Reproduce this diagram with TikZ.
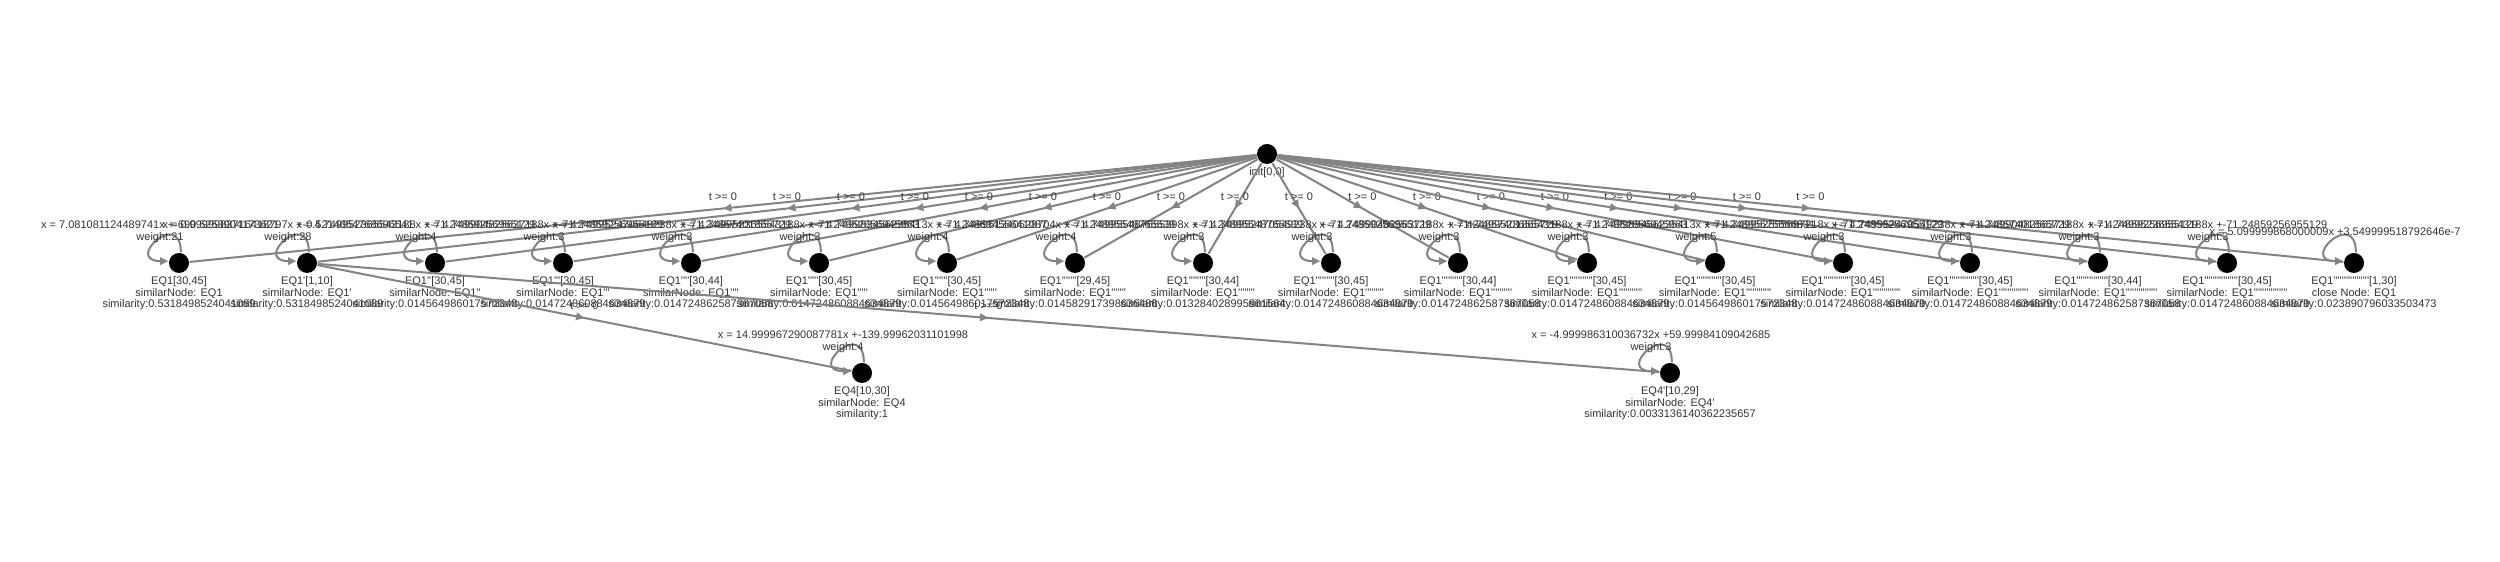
\documentclass[tikz,border=0pt]{standalone}
\usepackage{fontspec}
\newfontfamily\visfont{Liberation Sans}[Ligatures=TeXOff]
\usepackage{xcolor}
\usetikzlibrary{arrows.meta, decorations.markings}
\definecolor{edgegray}{HTML}{848484}
\definecolor{txtgray}{HTML}{343434}

\begin{document}
\begin{tikzpicture}[
    x=0.01cm, y=-0.01cm,
    vnode/.style={circle, fill=black, inner sep=0pt, minimum size=0.2cm},
    nlbl/.style={font=\visfont\fontsize{3.13pt}{3.33pt}\selectfont, text=txtgray, align=center, inner sep=0pt},
    below lbl/.style={label={[nlbl, label distance=0.6pt]below:{#1}}},
    tlbl/.style={nlbl, yshift=3.4pt},
    edge/.style={draw=edgegray, line width=0.57pt, postaction={decorate},
        decoration={markings, mark=at position 0.5 with {\arrow{Triangle[length=2.4pt,width=2.1pt]}}}},
    loopedge/.style={draw=edgegray, line width=0.57pt, -{Triangle[length=2.4pt,width=2.1pt]}},
]
\path[use as bounding box, fill=white] (0,0) rectangle (2500,562);

% root
\node[vnode, below lbl={init[0,0]}] (root) at (1267,154) {};

% first level
\node[vnode, below lbl={EQ1[30,45]\\similarNode: EQ1\\similarity:0.5318498524041089}] (eq1) at (179,263) {};
\node[vnode, below lbl={EQ1'[1,10]\\similarNode: EQ1'\\similarity:0.5318498524041089}] (eq2) at (307,263) {};
\node[vnode, below lbl={EQ1''[30,45]\\similarNode: EQ1''\\similarity:0.014564986017572348}] (eq3) at (435,263) {};
\node[vnode, below lbl={EQ1'''[30,45]\\similarNode: EQ1'''\\similarity:0.014724860884634879}] (eq4) at (563,263) {};
\node[vnode, below lbl={EQ1''''[30,44]\\similarNode: EQ1''''\\similarity:0.014724862587367058}] (eq5) at (691,263) {};
\node[vnode, below lbl={EQ1'''''[30,45]\\similarNode: EQ1'''''\\similarity:0.014724860884634879}] (eq6) at (819,263) {};
\node[vnode, below lbl={EQ1''''''[30,45]\\similarNode: EQ1''''''\\similarity:0.014564986017572348}] (eq7) at (947,263) {};
\node[vnode, below lbl={EQ1'''''''[29,45]\\similarNode: EQ1'''''''\\similarity:0.014582917398636486}] (eq8) at (1075,263) {};
\node[vnode, below lbl={EQ1''''''''[30,44]\\similarNode: EQ1''''''''\\similarity:0.013284028995861564}] (eq9) at (1203,263) {};
\node[vnode, below lbl={EQ1'''''''''[30,45]\\similarNode: EQ1'''''''''\\similarity:0.014724860884634879}] (eq10) at (1331,263) {};
\node[vnode, below lbl={EQ1''''''''''[30,44]\\similarNode: EQ1''''''''''\\similarity:0.014724862587367058}] (eq11) at (1458,263) {};
\node[vnode, below lbl={EQ1'''''''''''[30,45]\\similarNode: EQ1'''''''''''\\similarity:0.014724860884634879}] (eq12) at (1587,263) {};
\node[vnode, below lbl={EQ1''''''''''''[30,45]\\similarNode: EQ1''''''''''''\\similarity:0.014564986017572348}] (eq13) at (1715,263) {};
\node[vnode, below lbl={EQ1'''''''''''''[30,45]\\similarNode: EQ1'''''''''''''\\similarity:0.014724860884634879}] (eq14) at (1843,263) {};
\node[vnode, below lbl={EQ1''''''''''''''[30,45]\\similarNode: EQ1''''''''''''''\\similarity:0.014724860884634879}] (eq15) at (1970,263) {};
\node[vnode, below lbl={EQ1'''''''''''''''[30,44]\\similarNode: EQ1'''''''''''''''\\similarity:0.014724862587367058}] (eq16) at (2098,263) {};
\node[vnode, below lbl={EQ1''''''''''''''''[30,45]\\similarNode: EQ1''''''''''''''''\\similarity:0.014724860884634879}] (eq17) at (2227,263) {};
\node[vnode, below lbl={EQ1'''''''''''''''''[1,30]\\close Node: EQ1\\similarity:0.023890796033503473}] (eq18) at (2354,263) {};

% second level
\node[vnode, below lbl={EQ4[10,30]\\similarNode: EQ4\\similarity:1}] (eqfour) at (862,373) {};
\node[vnode, below lbl={EQ4'[10,29]\\similarNode: EQ4'\\similarity:0.0033136140362235657}] (eqfourp) at (1670,373) {};

% edges
\foreach \k in {1,...,18}
    \draw[edge] (root) -- node[tlbl] {t >= 0} (eq\k);
\draw[edge] (eq2) -- node[tlbl] {t >= 0} (eqfour);
\draw[edge] (eq2) -- node[tlbl] {t >= 0} (eqfourp);

% self loops
\foreach \k in {eq1,eq2,eq3,eq4,eq5,eq6,eq7,eq8,eq9,eq10,eq11,eq12,eq13,eq14,eq15,eq16,eq17,eq18,eqfour,eqfourp}
    \draw[loopedge] (\k.80) .. controls +(0,-45) and +(-45,0) .. (\k.170);

% loop labels
\node[nlbl] (w1) at ([shift={(-19,-31)}]eq1.center) {x = 7.081081124489741x +-690.5253904173621\\weight:21};
\node[nlbl] (w2) at ([shift={(-19,-31)}]eq2.center) {x = 0.9999983716418797x +-0.5214054768696541\\weight:28};
\node[nlbl] (w3) at ([shift={(-19,-31)}]eq3.center) {x = 4.749952365543188x +-71.24859256955129\\weight:4};
\node[nlbl] (w4) at ([shift={(-19,-31)}]eq4.center) {x = 4.749904825637188x +-71.24859256955129\\weight:3};
\node[nlbl] (w5) at ([shift={(-19,-31)}]eq5.center) {x = 4.749952470549238x +-71.24857401865729\\weight:3};
\node[nlbl] (w6) at ([shift={(-19,-31)}]eq6.center) {x = 4.749952365543188x +-71.24952856945963\\weight:3};
\node[nlbl] (w7) at ([shift={(-19,-31)}]eq7.center) {x = 4.749983456235413x +-71.24863455641087\\weight:4};
\node[nlbl] (w8) at ([shift={(-19,-31)}]eq8.center) {x = 4.749961340528704x +-71.24895548765539\\weight:4};
\node[nlbl] (w9) at ([shift={(-19,-31)}]eq9.center) {x = 4.749955487655398x +-71.24895548765539\\weight:3};
\node[nlbl] (w10) at ([shift={(-19,-31)}]eq10.center) {x = 4.749952470549238x +-71.24859256955129\\weight:3};
\node[nlbl] (w11) at ([shift={(-19,-31)}]eq11.center) {x = 4.749904825637188x +-71.24857401865729\\weight:3};
\node[nlbl] (w12) at ([shift={(-19,-31)}]eq12.center) {x = 4.749952365543188x +-71.24952856945963\\weight:3};
\node[nlbl] (w13) at ([shift={(-19,-31)}]eq13.center) {x = 4.749983456235413x +-71.24895525556831\\weight:5};
\node[nlbl] (w14) at ([shift={(-19,-31)}]eq14.center) {x = 4.749952555687218x +-71.24859256955129\\weight:3};
\node[nlbl] (w15) at ([shift={(-19,-31)}]eq15.center) {x = 4.749952470549238x +-71.24857401865729\\weight:3};
\node[nlbl] (w16) at ([shift={(-19,-31)}]eq16.center) {x = 4.749904825637188x +-71.24859256955129\\weight:3};
\node[nlbl] (w17) at ([shift={(-19,-31)}]eq17.center) {x = 4.749952365543188x +-71.24859256955129\\weight:3};
\node[nlbl] (w18) at ([shift={(-19,-31)}]eq18.center) {x = 5.099999868000009x +3.549999518792646e-7};
\node[nlbl] (wfour) at ([shift={(-19,-31)}]eqfour.center) {x = 14.999967290087781x +-139.99962031101998\\weight:4};
\node[nlbl] (wfourp) at ([shift={(-19,-31)}]eqfourp.center) {x = -4.999986310036732x +59.99984109042685\\weight:3};
\end{tikzpicture}
\end{document}
